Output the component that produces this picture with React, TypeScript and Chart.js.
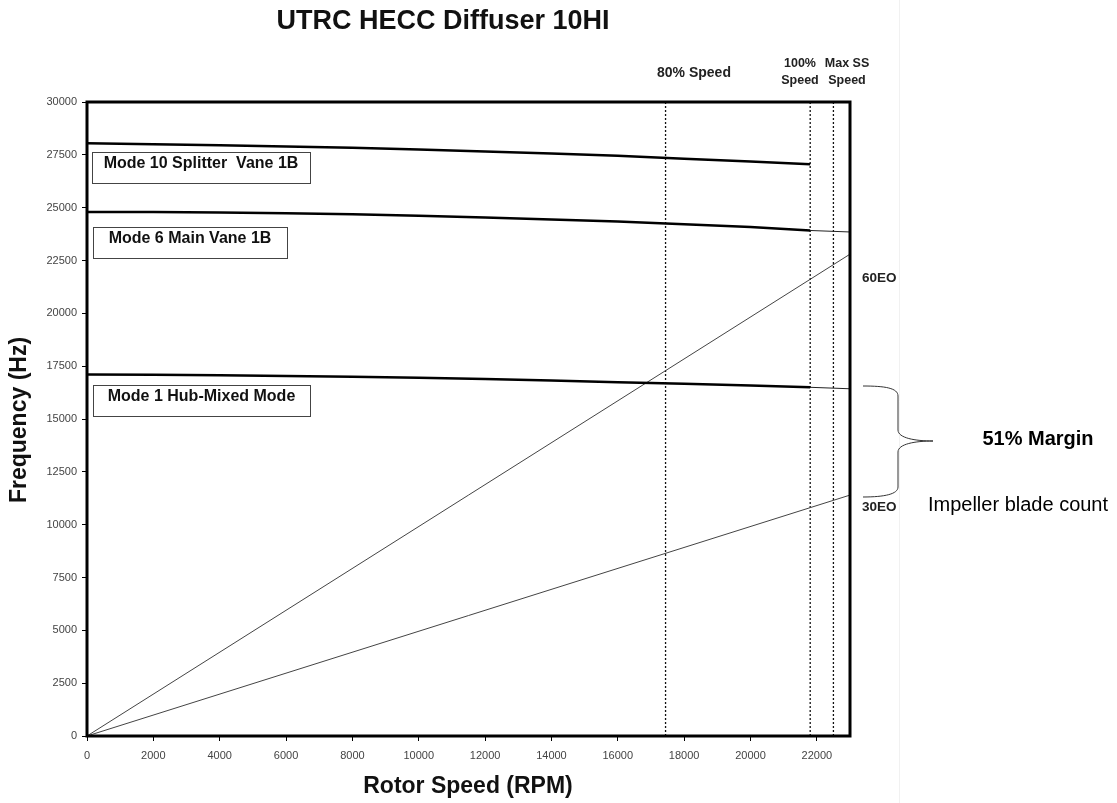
import React, { useEffect, useRef } from "react";
import { Chart, registerables } from "chart.js";

Chart.register(...registerables);

// ---- Data ----
const MODE_RPM = [0, 2000, 4000, 6000, 8000, 10000, 12000, 14000, 16000, 18000, 20000, 21800];
const MODE10_HZ = [28050, 28000, 27950, 27900, 27830, 27750, 27660, 27560, 27460, 27320, 27190, 27050];
const MODE6_HZ = [24800, 24790, 24770, 24740, 24690, 24620, 24540, 24440, 24340, 24220, 24080, 23920];
const MODE1_HZ = [17100, 17090, 17070, 17040, 17000, 16950, 16890, 16820, 16740, 16670, 16590, 16500];
const TAIL_RPM = [21800, 23000];
const MODE6_TAIL_HZ = [23920, 23850];
const MODE1_TAIL_HZ = [16500, 16430];
const EO_RPM = [0, 23000];
const EO60_HZ = [0, 22800];
const EO30_HZ = [0, 11400];
const SPEED_LINES_RPM = [17440, 21800, 22500];
const SPEED_LINE_HZ = [0, 30000];
const MODE_LABELS = ["Mode 10 Splitter  Vane 1B", "Mode 6 Main Vane 1B", "Mode 1 Hub-Mixed Mode"];
const X_TICKS = [0, 2000, 4000, 6000, 8000, 10000, 12000, 14000, 16000, 18000, 20000, 22000];
const Y_TICKS = [0, 2500, 5000, 7500, 10000, 12500, 15000, 17500, 20000, 22500, 25000, 27500, 30000];
const X_MIN = 0;
const X_MAX = 23000;
const Y_MIN = 0;
const Y_MAX = 30000;

const FONT = "'Liberation Sans', Arial, Helvetica, sans-serif";

const pts = (xs: number[], ys: number[]) => xs.map((x, i) => ({ x, y: ys[i] }));

const annotationPlugin = {
  id: "annotations",
  afterDraw(chart: any) {
    const ctx = chart.ctx as CanvasRenderingContext2D;
    const { left, right, top, bottom } = chart.chartArea;
    ctx.save();

    // frame
    ctx.strokeStyle = "#000";
    ctx.lineWidth = 3;
    ctx.strokeRect(left, top, right - left, bottom - top);

    // faint page edge
    ctx.strokeStyle = "#f1f1f1";
    ctx.lineWidth = 1;
    ctx.beginPath();
    ctx.moveTo(899.5, 0);
    ctx.lineTo(899.5, 803);
    ctx.stroke();

    // title
    ctx.fillStyle = "#111";
    ctx.textAlign = "center";
    ctx.textBaseline = "middle";
    ctx.font = `bold 27px ${FONT}`;
    ctx.fillText("UTRC HECC Diffuser 10HI", 443, 22);

    // axis titles
    ctx.font = `bold 23px ${FONT}`;
    ctx.fillText("Rotor Speed (RPM)", 468, 787);
    ctx.save();
    ctx.translate(20, 420);
    ctx.rotate(-Math.PI / 2);
    ctx.fillText("Frequency (Hz)", 0, 0);
    ctx.restore();

    // speed labels
    ctx.fillStyle = "#222";
    ctx.font = `bold 14px ${FONT}`;
    ctx.fillText("80% Speed", 694, 73);
    ctx.font = `bold 12.5px ${FONT}`;
    ctx.fillText("100%", 800, 64);
    ctx.fillText("Speed", 800, 81);
    ctx.fillText("Max SS", 847, 64);
    ctx.fillText("Speed", 847, 81);

    // mode boxes
    const boxes = [
      { x: left + 5, y: 152, w: 218, h: 31 },
      { x: left + 6, y: 227, w: 194, h: 31 },
      { x: left + 6, y: 385, w: 217, h: 31 },
    ];
    boxes.forEach((b, i) => {
      ctx.fillStyle = "#fff";
      ctx.fillRect(b.x, b.y, b.w, b.h);
      ctx.strokeStyle = "#444";
      ctx.lineWidth = 1;
      ctx.strokeRect(b.x + 0.5, b.y + 0.5, b.w, b.h);
      ctx.fillStyle = "#111";
      ctx.font = `bold 16px ${FONT}`;
      ctx.textAlign = "center";
      ctx.fillText(MODE_LABELS[i], b.x + b.w / 2, b.y + 12);
    });

    // EO labels
    ctx.fillStyle = "#222";
    ctx.font = `bold 13.5px ${FONT}`;
    ctx.textAlign = "left";
    ctx.fillText("60EO", right + 12, 278);
    ctx.fillText("30EO", right + 12, 507);

    // brace
    ctx.strokeStyle = "#333";
    ctx.lineWidth = 1;
    ctx.beginPath();
    ctx.moveTo(863, 386);
    ctx.bezierCurveTo(885, 386, 898, 388, 898, 396);
    ctx.lineTo(898, 430);
    ctx.bezierCurveTo(898, 438, 915, 441, 933, 441);
    ctx.moveTo(933, 441);
    ctx.bezierCurveTo(915, 441, 898, 444, 898, 452);
    ctx.lineTo(898, 487);
    ctx.bezierCurveTo(898, 494, 885, 497, 863, 497);
    ctx.stroke();

    // margin text
    ctx.fillStyle = "#000";
    ctx.textAlign = "center";
    ctx.font = `bold 20px ${FONT}`;
    ctx.fillText("51% Margin", 1038, 439);
    ctx.font = `20px ${FONT}`;
    ctx.fillText("Impeller blade count", 1018, 505);

    ctx.restore();
  },
};

export default function App() {
  const ref = useRef<HTMLCanvasElement | null>(null);

  useEffect(() => {
    document.body.style.margin = "0";
    if (!ref.current) return;
    const modeStyle = { borderColor: "#000", borderWidth: 2.5, pointRadius: 0, fill: false, tension: 0 };
    const thinStyle = { borderColor: "#222", borderWidth: 1, pointRadius: 0, fill: false, tension: 0 };
    const datasets: any[] = [
      { label: MODE_LABELS[0], data: pts(MODE_RPM, MODE10_HZ), ...modeStyle },
      { label: MODE_LABELS[1], data: pts(MODE_RPM, MODE6_HZ), ...modeStyle },
      { label: MODE_LABELS[2], data: pts(MODE_RPM, MODE1_HZ), ...modeStyle },
      { label: "Mode 6 tail", data: pts(TAIL_RPM, MODE6_TAIL_HZ), ...thinStyle },
      { label: "Mode 1 tail", data: pts(TAIL_RPM, MODE1_TAIL_HZ), ...thinStyle },
      { label: "60EO", data: pts(EO_RPM, EO60_HZ), ...thinStyle, borderColor: "#444" },
      { label: "30EO", data: pts(EO_RPM, EO30_HZ), ...thinStyle, borderColor: "#444" },
      ...SPEED_LINES_RPM.map((r) => ({
        label: `speed ${r}`,
        data: pts([r, r], SPEED_LINE_HZ),
        borderColor: "#111",
        borderWidth: 1.3,
        borderDash: [2, 2],
        pointRadius: 0,
        fill: false,
      })),
    ];

    const chart = new Chart(ref.current, {
      type: "line",
      data: { datasets },
      options: {
        animation: false,
        responsive: false,
        devicePixelRatio: 1,
        layout: { padding: { left: 0, right: 267, top: 102, bottom: 0 } },
        plugins: { legend: { display: false }, tooltip: { enabled: false }, title: { display: false } },
        scales: {
          x: {
            type: "linear",
            min: X_MIN,
            max: X_MAX,
            afterBuildTicks: (s: any) => {
              s.ticks = X_TICKS.map((value) => ({ value }));
            },
            afterFit: (s: any) => {
              s.height = 67;
            },
            border: { display: false },
            grid: { drawOnChartArea: false, drawTicks: true, tickLength: 5, color: "#000", lineWidth: 1 },
            ticks: {
              autoSkip: false,
              maxRotation: 0,
              padding: 8,
              color: "#444",
              font: { family: FONT, size: 11 },
              callback: (v: any) => String(v),
            },
          },
          y: {
            type: "linear",
            min: Y_MIN,
            max: Y_MAX,
            afterBuildTicks: (s: any) => {
              s.ticks = Y_TICKS.map((value) => ({ value }));
            },
            afterFit: (s: any) => {
              s.width = 87;
            },
            border: { display: false },
            grid: { drawOnChartArea: false, drawTicks: true, tickLength: 5, color: "#000", lineWidth: 1 },
            ticks: {
              autoSkip: false,
              padding: 5,
              color: "#444",
              font: { family: FONT, size: 11 },
              callback: (v: any) => String(v),
            },
          },
        },
      },
      plugins: [annotationPlugin],
    });
    return () => chart.destroy();
  }, []);

  return (
    <div style={{ position: "absolute", left: 0, top: 0, width: 1117, height: 803, background: "#fff" }}>
      <canvas ref={ref} width={1117} height={803} />
    </div>
  );
}
